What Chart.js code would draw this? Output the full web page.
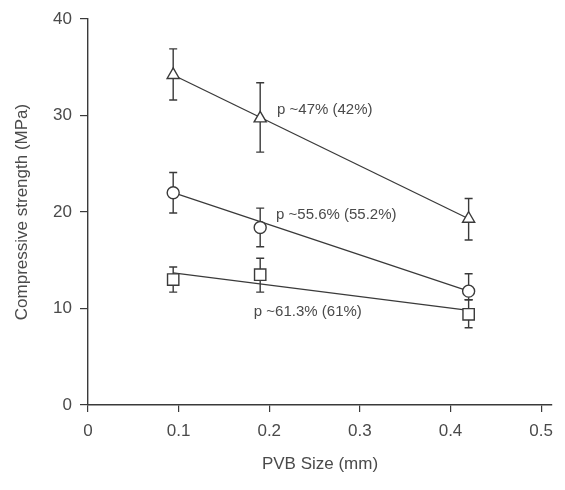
<!DOCTYPE html>
<html>
<head>
<meta charset="utf-8">
<script src="https://cdn.jsdelivr.net/npm/chart.js@4"></script>
<style>
  html, body { margin:0; padding:0; background:#fff; }
  #wrap { width:565px; height:490px; }
</style>
</head>
<body>
<div id="wrap"><canvas id="c" width="565" height="490"></canvas></div>
<script>
// PVB particle size (mm) where the strength was measured
const sizes = [0.094, 0.19, 0.42];

// porosity ~47% (42%)  - triangles
const triMean = [34.2, 29.7, 19.3];
const triHi   = [36.9, 33.4, 21.4];
const triLo   = [31.6, 26.2, 17.1];
const triFit  = [34.2, 19.3];

// porosity ~55.6% (55.2%) - circles
const cirMean = [22.0, 18.4, 11.8];
const cirHi   = [24.1, 20.4, 13.6];
const cirLo   = [19.9, 16.4, 10.9];
const cirFit  = [22.0, 11.8];

// porosity ~61.3% (61%) - squares
const sqMean = [13.0, 13.5, 9.4];
const sqHi   = [14.3, 15.2, 10.9];
const sqLo   = [11.7, 11.7, 8.0];
const sqFit  = [13.7, 9.8];

const fitX = [0.094, 0.42];
const xTicks = [0, 0.1, 0.2, 0.3, 0.4, 0.5];
const yTicks = [0, 10, 20, 30, 40];

const labels = ['p ~47% (42%)', 'p ~55.6% (55.2%)', 'p ~61.3% (61%)'];

const INK = '#3a3a3a';
const TXT = '#4a4a4a';
const FONT = '"Liberation Sans", Arial, sans-serif';

const pts = (xs, ys) => xs.map((x, i) => ({ x, y: ys[i] }));

const groups = [
  { mean: triMean, hi: triHi, lo: triLo },
  { mean: cirMean, hi: cirHi, lo: cirLo },
  { mean: sqMean,  hi: sqHi,  lo: sqLo }
];

const errorBars = {
  id: 'errorBars',
  beforeDatasetsDraw(chart){
    const {ctx, scales:{x, y}} = chart;
    ctx.save();
    ctx.strokeStyle = INK;
    ctx.lineWidth = 1.4;
    groups.forEach(g => {
      sizes.forEach((s, i) => {
        const px = x.getPixelForValue(s);
        const top = y.getPixelForValue(g.hi[i]);
        const bot = y.getPixelForValue(g.lo[i]);
        ctx.beginPath();
        ctx.moveTo(px, top); ctx.lineTo(px, bot);
        ctx.moveTo(px - 4, top); ctx.lineTo(px + 4, top);
        ctx.moveTo(px - 4, bot); ctx.lineTo(px + 4, bot);
        ctx.stroke();
      });
    });
    ctx.restore();
  }
};

// text labels next to each series, anchored in data units
const notes = {
  id: 'notes',
  afterDraw(chart){
    const {ctx, scales:{x, y}} = chart;
    const at = [[0.2086, 30.6], [0.2075, 19.7], [0.183, 9.7]];
    ctx.save();
    ctx.fillStyle = TXT;
    ctx.font = '15px ' + FONT;
    ctx.textBaseline = 'middle';
    labels.forEach((t, i) => {
      ctx.fillText(t, x.getPixelForValue(at[i][0]), y.getPixelForValue(at[i][1]));
    });
    ctx.restore();
  }
};

const lineDs = (data) => ({
  data, showLine: true, pointRadius: 0, borderColor: INK, borderWidth: 1.3,
  fill: false, order: 2
});
const markDs = (data, style, r) => ({
  data, showLine: false, pointStyle: style, pointRadius: r,
  pointBackgroundColor: '#fff', pointBorderColor: INK, pointBorderWidth: 1.4, order: 1
});

new Chart(document.getElementById('c').getContext('2d'), {
  type: 'scatter',
  data: {
    datasets: [
      lineDs(pts(fitX, triFit)),
      lineDs(pts(fitX, cirFit)),
      lineDs(pts(fitX, sqFit)),
      markDs(pts(sizes, triMean), 'triangle', 7),
      markDs(pts(sizes, cirMean), 'circle', 6),
      markDs(pts(sizes, sqMean), 'rect', 8)
    ]
  },
  options: {
    responsive: false,
    animation: false,
    layout: { padding: { top: 19, right: 13, left: 0, bottom: 0 } },
    plugins: { legend: { display:false }, tooltip: { enabled:false } },
    scales: {
      x: {
        type: 'linear', min: 0, max: 0.512,
        afterBuildTicks: s => { s.ticks = xTicks.map(v => ({ value: v })); },
        afterFit: s => { s.height = 85; },
        border: { color: INK, width: 1.4 },
        grid: { drawOnChartArea: false, drawTicks: true, tickLength: 7, color: INK, lineWidth: 1.2 },
        ticks: {
          color: TXT, padding: 9, font: { family: FONT, size: 17 },
          callback: v => v === 0 ? '0' : v.toFixed(1)
        },
        title: {
          display: true, text: 'PVB Size (mm)', color: TXT,
          font: { family: FONT, size: 17 }, padding: { top: 0, bottom: 15 }
        }
      },
      y: {
        type: 'linear', min: 0, max: 40,
        afterBuildTicks: s => { s.ticks = yTicks.map(v => ({ value: v })); },
        afterFit: s => { s.width = 88; },
        border: { color: INK, width: 1.4 },
        grid: { drawOnChartArea: false, drawTicks: true, tickLength: 8, color: INK, lineWidth: 1.2 },
        ticks: { color: TXT, padding: 8, font: { family: FONT, size: 17 } },
        title: {
          display: true, text: 'Compressive strength (MPa)', color: TXT,
          font: { family: FONT, size: 17 }, padding: { top: 12, bottom: 0 }
        }
      }
    }
  },
  plugins: [errorBars, notes]
});
</script>
</body>
</html>
